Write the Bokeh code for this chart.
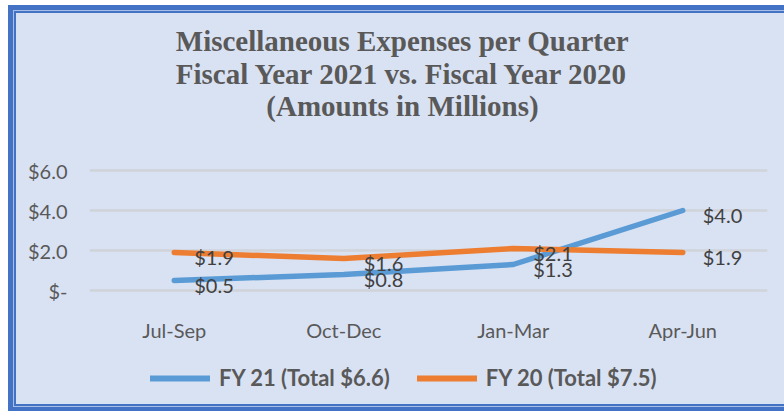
from bokeh.plotting import figure
from bokeh.models import (FactorRange, Range1d, FixedTicker, Label,
                          Legend, LegendItem, ColumnDataSource)
from bokeh.layouts import column
from bokeh.core.properties import value
from bokeh.embed import file_html
from bokeh.resources import INLINE

quarters = ["Jul-Sep", "Oct-Dec", "Jan-Mar", "Apr-Jun"]
fy21 = [0.5, 0.8, 1.3, 4.0]
fy20 = [1.9, 1.6, 2.1, 1.9]
fy21_labels = ["$0.5", "$0.8", "$1.3", "$4.0"]
fy20_labels = ["$1.9", "$1.6", "$2.1", "$1.9"]
y_ticks = [0, 2, 4, 6]
y_tick_labels = ["$-", "$2.0", "$4.0", "$6.0"]
title_lines = ["Miscellaneous Expenses per Quarter",
               "Fiscal Year 2021 vs. Fiscal Year 2020",
               "(Amounts in Millions)"]
legend_names = ["FY 21 (Total $6.6)", "FY 20 (Total $7.5)"]

BG = "#D9E2F3"
BLUE = "#5B9BD5"
ORANGE = "#ED7D31"
TXT = "#595959"
FONT = "Lato"

# page geometry (px)
OX, OY = 16, 13          # canvas origin inside the double blue frame
W = 784 - OX             # 768
TITLE_BOTTOM = 130       # page y where the title strip ends
MAIN_BOTTOM = 356        # page y where the chart strip ends
PAGE_BOTTOM = 404
FL, FR, FT, FB = 89, 767, 160, 300   # plot frame edges, page px


def strip(height):
    f = figure(width=W, height=height, x_axis_type=None, y_axis_type=None,
               output_backend="svg", toolbar_location=None, min_border=0,
               x_range=Range1d(FL, FR), y_range=Range1d(height, 0))
    f.border_fill_color = BG
    f.background_fill_color = None
    f.outline_line_color = None
    f.grid.visible = False
    return f


# ---- title strip
TH = TITLE_BOTTOM - OY
pt = strip(TH)
for line, base in zip(title_lines, [49, 82, 114]):
    pt.add_layout(Label(x=402, y=base - OY - 9, text=line,
                        text_align="center", text_baseline="alphabetic",
                        text_font="Liberation Serif", text_font_style="bold",
                        text_font_size="29px", text_color=TXT))

# ---- main chart
p = figure(frame_width=FR - FL, frame_height=FB - FT,
           x_range=FactorRange(*quarters), y_range=Range1d(-0.5, 6.5),
           output_backend="svg", toolbar_location=None,
           min_border_left=FL - OX, min_border_right=784 - FR,
           min_border_top=FT - TITLE_BOTTOM, min_border_bottom=MAIN_BOTTOM - FB)
p.border_fill_color = BG
p.background_fill_color = None
p.outline_line_color = None

for ax in (p.xaxis, p.yaxis):
    ax.axis_line_color = None
    ax.major_tick_line_color = None
    ax.minor_tick_line_color = None
    ax.major_tick_out = 0
    ax.major_tick_in = 0
    ax.minor_tick_out = 0
    ax.major_label_text_font = FONT
    ax.major_label_text_font_size = "20px"
    ax.major_label_text_color = TXT

p.xaxis.major_label_standoff = 17
p.yaxis.ticker = FixedTicker(ticks=y_ticks)
p.yaxis.major_label_overrides = {t: s for t, s in zip(y_ticks, y_tick_labels)}
p.yaxis.major_label_standoff = 22

p.xgrid.grid_line_color = None
p.ygrid.grid_line_color = "#D0D3D9"
p.ygrid.grid_line_width = 2.5

src = ColumnDataSource(dict(q=quarters, fy21=fy21, fy20=fy20,
                            l21=fy21_labels, l20=fy20_labels))

p.line("q", "fy21", source=src, line_color=BLUE, line_width=5.5,
       line_cap="round", line_join="round")
p.line("q", "fy20", source=src, line_color=ORANGE, line_width=5.5,
       line_cap="round", line_join="round")

for col, ycol in [("l21", "fy21"), ("l20", "fy20")]:
    p.text(x="q", y=ycol, text=col, source=src, x_offset=20, y_offset=4,
           text_baseline="middle", text_align="left",
           text_font=value(FONT), text_font_size="20px", text_color="#404040")

# ---- legend strip (swatch renderers hold no visible points)
LH = PAGE_BOTTOM - MAIN_BOTTOM
pl = strip(LH)
nan = float("nan")
e = ColumnDataSource(dict(x=[nan, nan], y=[nan, nan]))
g21 = pl.line("x", "y", source=e, line_color=BLUE, line_width=6, line_cap="round")
g20 = pl.line("x", "y", source=e, line_color=ORANGE, line_width=6, line_cap="round")
legend = Legend(items=[LegendItem(label=legend_names[0], renderers=[g21]),
                       LegendItem(label=legend_names[1], renderers=[g20])],
                orientation="horizontal", location=(150 - FL, 13),
                padding=0, margin=0, spacing=27, label_standoff=9,
                glyph_width=60, glyph_height=20, label_height=20,
                background_fill_alpha=0, border_line_color=None,
                label_text_font=FONT, label_text_font_style="bold",
                label_text_font_size="22px", label_text_color=TXT,
                label_text_baseline="middle")
pl.add_layout(legend, "center")

page = column(pt, p, pl, spacing=0)
page.margin = (OY, 0, 0, OX)
page.styles = {"background-color": BG,
               "box-shadow": "0 0 0 2px #4472C4, 0 0 0 3px #A9BEE6, 0 0 0 8px #4472C4"}

open("out.html", "w").write(file_html(page, INLINE))
